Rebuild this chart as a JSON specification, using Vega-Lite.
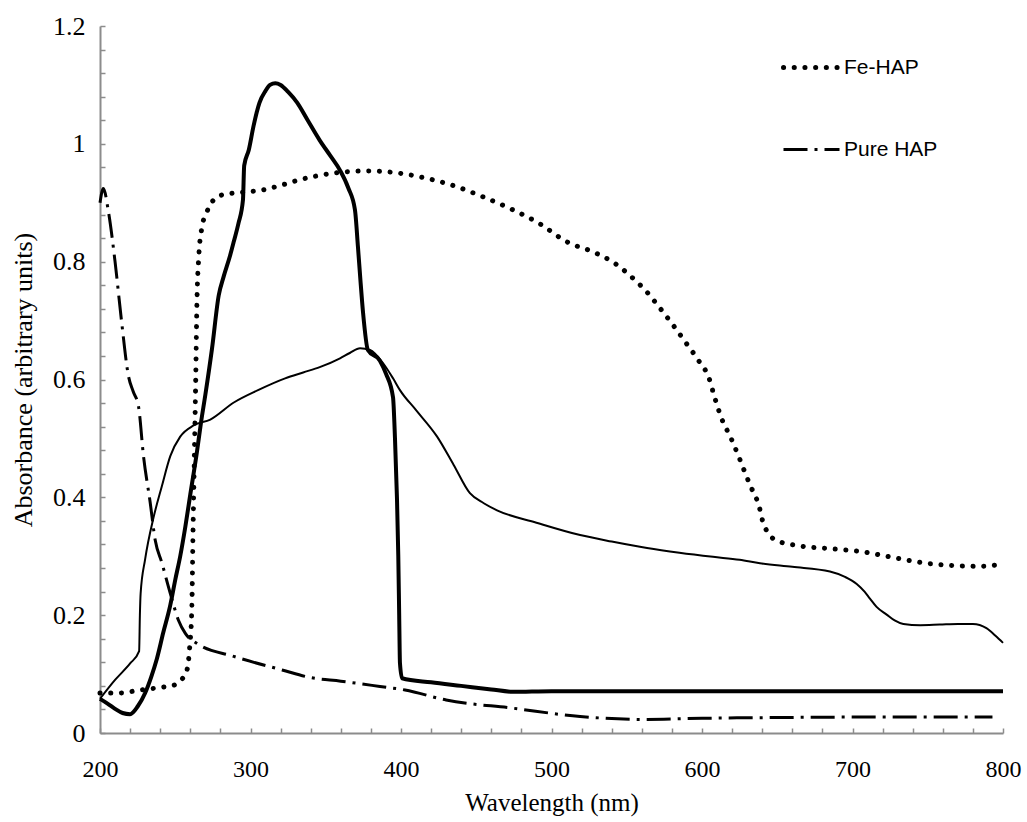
{
  "$schema": "https://vega.github.io/schema/vega-lite/v6.json",
  "width": 903,
  "height": 707,
  "autosize": {"type": "none"},
  "padding": {"left": 100, "top": 26, "right": 24, "bottom": 89},
  "background": "white",
  "config": {
    "view": {"stroke": null},
    "font": "Liberation Serif",
    "axis": {
      "domainColor": "#8c8c8c",
      "domainWidth": 2,
      "tickColor": "#8c8c8c",
      "tickWidth": 1.5,
      "grid": false,
      "labelFlush": false,
      "labelOverlap": false,
      "labelFont": "Liberation Serif",
      "labelFontSize": 24,
      "labelColor": "black",
      "titleFont": "Liberation Serif",
      "titleFontSize": 25,
      "titleFontWeight": "normal",
      "titleColor": "black"
    },
    "legend": {
      "labelFont": "Liberation Sans",
      "labelFontSize": 21,
      "labelColor": "black"
    }
  },
  "datasets": {
    "thick": [
      {"wl": 200, "abs": 0.058}, {"wl": 205, "abs": 0.05}, {"wl": 210, "abs": 0.041}, {"wl": 215, "abs": 0.034},
      {"wl": 220, "abs": 0.032}, {"wl": 225, "abs": 0.045}, {"wl": 230, "abs": 0.068}, {"wl": 234, "abs": 0.095},
      {"wl": 237.8, "abs": 0.126}, {"wl": 242, "abs": 0.17}, {"wl": 246.7, "abs": 0.217}, {"wl": 250, "abs": 0.26},
      {"wl": 253.3, "abs": 0.3}, {"wl": 256.7, "abs": 0.35}, {"wl": 260, "abs": 0.405}, {"wl": 264.4, "abs": 0.477},
      {"wl": 267, "abs": 0.525}, {"wl": 270, "abs": 0.574}, {"wl": 274.4, "abs": 0.652}, {"wl": 278.9, "abs": 0.743},
      {"wl": 282.2, "abs": 0.775}, {"wl": 286.4, "abs": 0.81}, {"wl": 289, "abs": 0.835}, {"wl": 292, "abs": 0.865},
      {"wl": 295, "abs": 0.905}, {"wl": 295.8, "abs": 0.963}, {"wl": 298.9, "abs": 0.99}, {"wl": 302, "abs": 1.03},
      {"wl": 306, "abs": 1.07}, {"wl": 310, "abs": 1.09}, {"wl": 313, "abs": 1.1}, {"wl": 316.5, "abs": 1.103},
      {"wl": 320, "abs": 1.1}, {"wl": 325, "abs": 1.088}, {"wl": 331, "abs": 1.07}, {"wl": 338, "abs": 1.04},
      {"wl": 346, "abs": 1.006}, {"wl": 353, "abs": 0.98}, {"wl": 359.5, "abs": 0.955}, {"wl": 365, "abs": 0.925},
      {"wl": 369.4, "abs": 0.888}, {"wl": 371.4, "abs": 0.825}, {"wl": 373, "abs": 0.77}, {"wl": 374.8, "abs": 0.713},
      {"wl": 378, "abs": 0.65}, {"wl": 386, "abs": 0.632}, {"wl": 390, "abs": 0.61}, {"wl": 394.7, "abs": 0.57},
      {"wl": 396, "abs": 0.5}, {"wl": 397.3, "abs": 0.4}, {"wl": 398.2, "abs": 0.3}, {"wl": 398.8, "abs": 0.2},
      {"wl": 399.3, "abs": 0.119}, {"wl": 400.7, "abs": 0.093}, {"wl": 420, "abs": 0.086}, {"wl": 440, "abs": 0.08},
      {"wl": 460, "abs": 0.074}, {"wl": 474, "abs": 0.07}, {"wl": 500, "abs": 0.071}, {"wl": 600, "abs": 0.071},
      {"wl": 700, "abs": 0.071}, {"wl": 800, "abs": 0.071}
    ],
    "thin": [
      {"wl": 200, "abs": 0.058}, {"wl": 210, "abs": 0.09}, {"wl": 220, "abs": 0.118}, {"wl": 226, "abs": 0.139},
      {"wl": 226.5, "abs": 0.2}, {"wl": 227, "abs": 0.237}, {"wl": 230, "abs": 0.295}, {"wl": 235.6, "abs": 0.366},
      {"wl": 241, "abs": 0.418}, {"wl": 246.7, "abs": 0.47}, {"wl": 253.3, "abs": 0.503}, {"wl": 262.2, "abs": 0.522},
      {"wl": 273.3, "abs": 0.532}, {"wl": 288.9, "abs": 0.561}, {"wl": 305, "abs": 0.582}, {"wl": 323, "abs": 0.602},
      {"wl": 335, "abs": 0.612}, {"wl": 346, "abs": 0.621}, {"wl": 359.5, "abs": 0.636}, {"wl": 366, "abs": 0.645},
      {"wl": 372.8, "abs": 0.653}, {"wl": 379.4, "abs": 0.65}, {"wl": 388, "abs": 0.628}, {"wl": 394.7, "abs": 0.602},
      {"wl": 399.3, "abs": 0.582}, {"wl": 410, "abs": 0.548}, {"wl": 424, "abs": 0.503}, {"wl": 435, "abs": 0.455},
      {"wl": 445.8, "abs": 0.407}, {"wl": 455, "abs": 0.39}, {"wl": 463.8, "abs": 0.378}, {"wl": 490, "abs": 0.357},
      {"wl": 519, "abs": 0.336}, {"wl": 540, "abs": 0.325}, {"wl": 563.5, "abs": 0.314}, {"wl": 585, "abs": 0.306},
      {"wl": 607.3, "abs": 0.299}, {"wl": 625, "abs": 0.294}, {"wl": 638.5, "abs": 0.288}, {"wl": 660, "abs": 0.282},
      {"wl": 685, "abs": 0.274}, {"wl": 695, "abs": 0.265}, {"wl": 702.8, "abs": 0.253}, {"wl": 708, "abs": 0.24},
      {"wl": 711.6, "abs": 0.228}, {"wl": 716, "abs": 0.214}, {"wl": 722.7, "abs": 0.201}, {"wl": 728, "abs": 0.191},
      {"wl": 733.8, "abs": 0.185}, {"wl": 745, "abs": 0.183}, {"wl": 758, "abs": 0.184}, {"wl": 770, "abs": 0.185},
      {"wl": 780, "abs": 0.185}, {"wl": 789, "abs": 0.178}, {"wl": 795, "abs": 0.165}, {"wl": 800, "abs": 0.153}
    ],
    "fehap": [
      {"wl": 200, "abs": 0.068, "series": "Fe-HAP"}, {"wl": 213, "abs": 0.068, "series": "Fe-HAP"},
      {"wl": 226.7, "abs": 0.073, "series": "Fe-HAP"}, {"wl": 242, "abs": 0.078, "series": "Fe-HAP"},
      {"wl": 248.9, "abs": 0.081, "series": "Fe-HAP"}, {"wl": 254.4, "abs": 0.091, "series": "Fe-HAP"},
      {"wl": 257.8, "abs": 0.107, "series": "Fe-HAP"}, {"wl": 259.6, "abs": 0.146, "series": "Fe-HAP"},
      {"wl": 261, "abs": 0.211, "series": "Fe-HAP"}, {"wl": 261.8, "abs": 0.34, "series": "Fe-HAP"},
      {"wl": 262.7, "abs": 0.47, "series": "Fe-HAP"}, {"wl": 263.6, "abs": 0.6, "series": "Fe-HAP"},
      {"wl": 264.4, "abs": 0.73, "series": "Fe-HAP"}, {"wl": 265.6, "abs": 0.807, "series": "Fe-HAP"},
      {"wl": 267.8, "abs": 0.859, "series": "Fe-HAP"}, {"wl": 271.1, "abs": 0.885, "series": "Fe-HAP"},
      {"wl": 275.6, "abs": 0.905, "series": "Fe-HAP"}, {"wl": 282.2, "abs": 0.914, "series": "Fe-HAP"},
      {"wl": 295.6, "abs": 0.918, "series": "Fe-HAP"}, {"wl": 308.5, "abs": 0.922, "series": "Fe-HAP"},
      {"wl": 322, "abs": 0.931, "series": "Fe-HAP"}, {"wl": 328.4, "abs": 0.936, "series": "Fe-HAP"},
      {"wl": 342.9, "abs": 0.945, "series": "Fe-HAP"}, {"wl": 357.2, "abs": 0.951, "series": "Fe-HAP"},
      {"wl": 378.3, "abs": 0.954, "series": "Fe-HAP"}, {"wl": 399.3, "abs": 0.95, "series": "Fe-HAP"},
      {"wl": 412.6, "abs": 0.944, "series": "Fe-HAP"}, {"wl": 433.7, "abs": 0.93, "series": "Fe-HAP"},
      {"wl": 453.6, "abs": 0.911, "series": "Fe-HAP"}, {"wl": 473.5, "abs": 0.889, "series": "Fe-HAP"},
      {"wl": 492.4, "abs": 0.864, "series": "Fe-HAP"}, {"wl": 510, "abs": 0.834, "series": "Fe-HAP"},
      {"wl": 530, "abs": 0.814, "series": "Fe-HAP"}, {"wl": 542.2, "abs": 0.797, "series": "Fe-HAP"},
      {"wl": 553.2, "abs": 0.774, "series": "Fe-HAP"}, {"wl": 563.2, "abs": 0.749, "series": "Fe-HAP"},
      {"wl": 572.1, "abs": 0.721, "series": "Fe-HAP"}, {"wl": 580.9, "abs": 0.692, "series": "Fe-HAP"},
      {"wl": 589.4, "abs": 0.662, "series": "Fe-HAP"}, {"wl": 597.5, "abs": 0.633, "series": "Fe-HAP"},
      {"wl": 604.7, "abs": 0.602, "series": "Fe-HAP"}, {"wl": 608.6, "abs": 0.568, "series": "Fe-HAP"},
      {"wl": 613, "abs": 0.534, "series": "Fe-HAP"}, {"wl": 619, "abs": 0.502, "series": "Fe-HAP"},
      {"wl": 624.6, "abs": 0.468, "series": "Fe-HAP"}, {"wl": 629.5, "abs": 0.436, "series": "Fe-HAP"},
      {"wl": 634, "abs": 0.409, "series": "Fe-HAP"}, {"wl": 637.5, "abs": 0.389, "series": "Fe-HAP"},
      {"wl": 640.6, "abs": 0.357, "series": "Fe-HAP"}, {"wl": 643.8, "abs": 0.34, "series": "Fe-HAP"},
      {"wl": 649.3, "abs": 0.327, "series": "Fe-HAP"}, {"wl": 663.7, "abs": 0.318, "series": "Fe-HAP"},
      {"wl": 684.7, "abs": 0.313, "series": "Fe-HAP"}, {"wl": 705.7, "abs": 0.308, "series": "Fe-HAP"},
      {"wl": 726.7, "abs": 0.298, "series": "Fe-HAP"}, {"wl": 746.6, "abs": 0.289, "series": "Fe-HAP"},
      {"wl": 768.7, "abs": 0.284, "series": "Fe-HAP"}, {"wl": 785, "abs": 0.283, "series": "Fe-HAP"},
      {"wl": 800, "abs": 0.287, "series": "Fe-HAP"}
    ],
    "purehap": [
      {"wl": 200, "abs": 0.9, "series": "Pure HAP"}, {"wl": 202.2, "abs": 0.924, "series": "Pure HAP"},
      {"wl": 205.6, "abs": 0.885, "series": "Pure HAP"}, {"wl": 210, "abs": 0.8, "series": "Pure HAP"},
      {"wl": 214.4, "abs": 0.697, "series": "Pure HAP"}, {"wl": 218.9, "abs": 0.606, "series": "Pure HAP"},
      {"wl": 222, "abs": 0.58, "series": "Pure HAP"}, {"wl": 225.6, "abs": 0.554, "series": "Pure HAP"},
      {"wl": 228.9, "abs": 0.47, "series": "Pure HAP"}, {"wl": 233.3, "abs": 0.392, "series": "Pure HAP"},
      {"wl": 236.7, "abs": 0.327, "series": "Pure HAP"}, {"wl": 241.1, "abs": 0.289, "series": "Pure HAP"},
      {"wl": 246.7, "abs": 0.237, "series": "Pure HAP"}, {"wl": 252.2, "abs": 0.191, "series": "Pure HAP"},
      {"wl": 256.7, "abs": 0.169, "series": "Pure HAP"}, {"wl": 264.4, "abs": 0.152, "series": "Pure HAP"},
      {"wl": 288.9, "abs": 0.13, "series": "Pure HAP"}, {"wl": 321, "abs": 0.107, "series": "Pure HAP"},
      {"wl": 340, "abs": 0.094, "series": "Pure HAP"}, {"wl": 360, "abs": 0.088, "series": "Pure HAP"},
      {"wl": 386, "abs": 0.079, "series": "Pure HAP"}, {"wl": 402.7, "abs": 0.073, "series": "Pure HAP"},
      {"wl": 430, "abs": 0.056, "series": "Pure HAP"}, {"wl": 474.6, "abs": 0.042, "series": "Pure HAP"},
      {"wl": 519, "abs": 0.028, "series": "Pure HAP"}, {"wl": 563, "abs": 0.023, "series": "Pure HAP"},
      {"wl": 600, "abs": 0.025, "series": "Pure HAP"}, {"wl": 638.5, "abs": 0.026, "series": "Pure HAP"},
      {"wl": 700, "abs": 0.027, "series": "Pure HAP"}, {"wl": 793, "abs": 0.027, "series": "Pure HAP"}
    ]
  },
  "encoding": {
    "x": {
      "field": "wl",
      "type": "quantitative",
      "scale": {"domain": [200, 800], "nice": false, "zero": false},
      "axis": {
        "title": "Wavelength (nm)",
        "values": [200,220,240,260,280,300,320,340,360,380,400,420,440,460,480,500,520,540,560,580,600,620,640,660,680,700,720,740,760,780,800],
        "labelExpr": "datum.value % 100 === 0 ? datum.label : ''",
        "ticks": true,
        "tickSize": -5,
        "labelPadding": 29,
        "titlePadding": 9
      }
    },
    "y": {
      "field": "abs",
      "type": "quantitative",
      "scale": {"domain": [0, 1.2], "nice": false},
      "axis": {
        "title": "Absorbance (arbitrary units)",
        "titleFontSize": 26,
        "labelFontSize": 26,
        "values": [0,0.04,0.08,0.12,0.16,0.2,0.24,0.28,0.32,0.36,0.4,0.44,0.48,0.52,0.56,0.6,0.64,0.68,0.72,0.76,0.8,0.84,0.88,0.92,0.96,1,1.04,1.08,1.12,1.16,1.2],
        "format": ".2~f",
        "labelExpr": "abs(datum.value * 5 - round(datum.value * 5)) < 0.001 ? datum.label : ''",
        "ticks": true,
        "tickSize": -5,
        "labelPadding": 20,
        "titlePadding": 16
      }
    }
  },
  "layer": [
    {
      "data": {"name": "thin"},
      "mark": {"type": "line", "color": "black", "strokeWidth": 2, "interpolate": "monotone"}
    },
    {
      "data": {"name": "thick"},
      "mark": {"type": "line", "color": "black", "strokeWidth": 4, "interpolate": "monotone"}
    },
    {
      "data": {"name": "fehap"},
      "mark": {"type": "line", "color": "black", "strokeWidth": 5, "strokeCap": "round", "interpolate": "monotone"},
      "encoding": {
        "strokeDash": {
          "field": "series", "type": "nominal",
          "scale": {"domain": ["Fe-HAP", "Pure HAP"], "range": [[0.1, 10.6], [24, 7, 3, 7]]},
          "legend": {
            "title": null, "orient": "none", "legendX": 701, "legendY": 31,
            "symbolType": "stroke", "symbolSize": 3136, "symbolStrokeColor": "black",
            "labelOffset": 22, "rowPadding": 60,
            "encode": {
              "symbols": {
                "update": {
                  "strokeCap": {"signal": "datum.value === 'Fe-HAP' ? 'round' : 'butt'"},
                  "strokeWidth": {"signal": "datum.value === 'Fe-HAP' ? 5 : 3"}
                }
              }
            }
          }
        }
      }
    },
    {
      "data": {"name": "purehap"},
      "mark": {"type": "line", "color": "black", "strokeWidth": 3, "strokeCap": "butt", "interpolate": "monotone"},
      "encoding": {
        "strokeDash": {"field": "series", "type": "nominal"}
      }
    }
  ]
}
